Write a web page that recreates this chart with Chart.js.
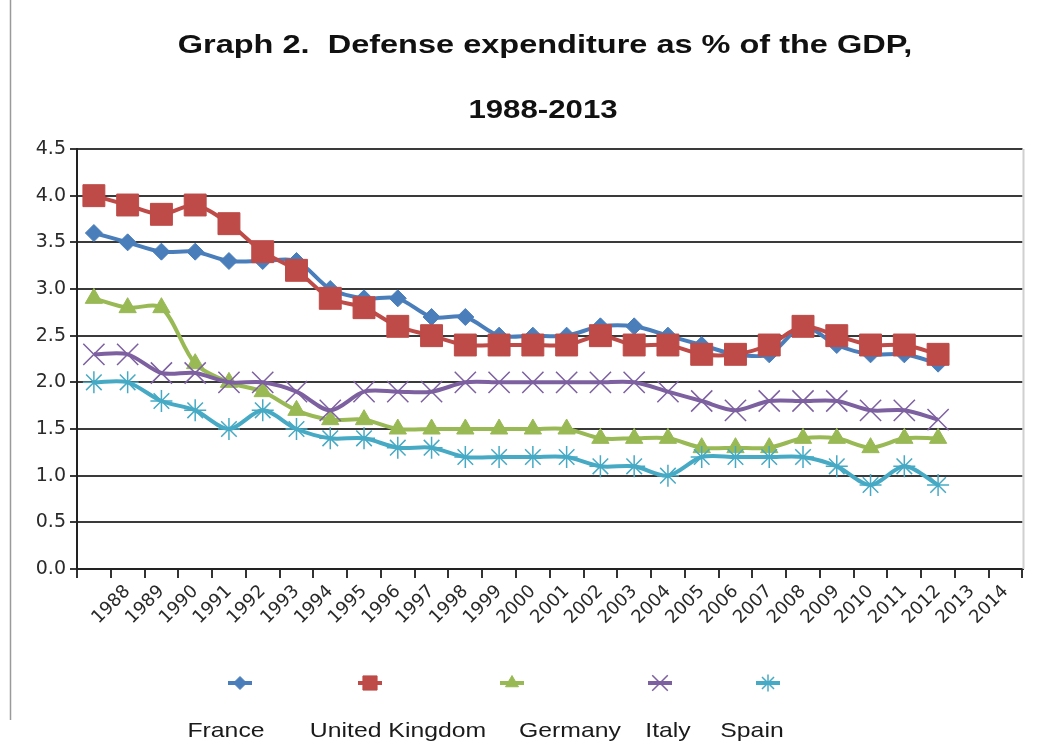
<!DOCTYPE html>
<html>
<head>
<meta charset="utf-8">
<script src="https://cdn.jsdelivr.net/npm/chart.js@4"></script>
<style>
html,body{margin:0;padding:0;background:#fff;}
#wrap{width:1039px;height:742px;position:relative;}
</style>
</head>
<body>
<div id="wrap"><canvas id="c" width="1039" height="742"></canvas></div>
<script>
const titleLines = ['Graph 2.  Defense expenditure as % of the GDP,', '1988-2013'];
const categories = ['', '1988', '1989', '1990', '1991', '1992', '1993', '1994', '1995', '1996', '1997', '1998', '1999', '2000', '2001', '2002', '2003', '2004', '2005', '2006', '2007', '2008', '2009', '2010', '2011', '2012', '2013', '2014'];
const seriesNames = ['France', 'United Kingdom', 'Germany', 'Italy', 'Spain'];
const france  = [3.6, 3.5, 3.4, 3.4, 3.3, 3.3, 3.3, 3.0, 2.9, 2.9, 2.7, 2.7, 2.5, 2.5, 2.5, 2.6, 2.6, 2.5, 2.4, 2.3, 2.3, 2.6, 2.4, 2.3, 2.3, 2.2];
const uk      = [4.0, 3.9, 3.8, 3.9, 3.7, 3.4, 3.2, 2.9, 2.8, 2.6, 2.5, 2.4, 2.4, 2.4, 2.4, 2.5, 2.4, 2.4, 2.3, 2.3, 2.4, 2.6, 2.5, 2.4, 2.4, 2.3];
const germany = [2.9, 2.8, 2.8, 2.2, 2.0, 1.9, 1.7, 1.6, 1.6, 1.5, 1.5, 1.5, 1.5, 1.5, 1.5, 1.4, 1.4, 1.4, 1.3, 1.3, 1.3, 1.4, 1.4, 1.3, 1.4, 1.4];
const italy   = [2.3, 2.3, 2.1, 2.1, 2.0, 2.0, 1.9, 1.7, 1.9, 1.9, 1.9, 2.0, 2.0, 2.0, 2.0, 2.0, 2.0, 1.9, 1.8, 1.7, 1.8, 1.8, 1.8, 1.7, 1.7, 1.6];
const spain   = [2.0, 2.0, 1.8, 1.7, 1.5, 1.7, 1.5, 1.4, 1.4, 1.3, 1.3, 1.2, 1.2, 1.2, 1.2, 1.1, 1.1, 1.0, 1.2, 1.2, 1.2, 1.2, 1.1, 0.9, 1.1, 0.9];
const yTickLabels = ['0.0', '0.5', '1.0', '1.5', '2.0', '2.5', '3.0', '3.5', '4.0', '4.5'];

const seriesValues = [france, uk, germany, italy, spain];
const colors = ['#4A7EBB', '#BE4B48', '#98B954', '#7D60A0', '#46AAC5'];
const styles = [
  {pointStyle: 'rectRot', radius: 8.5, bw: 1},
  {pointStyle: 'rect', radius: 15.5, bw: 1},
  {pointStyle: 'triangle', radius: 10, bw: 1},
  {pointStyle: 'crossRot', radius: 15, bw: 1.5},
  {pointStyle: 'star', radius: 11, bw: 1.5}
];
const legendStyles = [
  {pointStyle: 'rectRot', radius: 6.5, bw: 1},
  {pointStyle: 'rect', radius: 10, bw: 1},
  {pointStyle: 'triangle', radius: 7.5, bw: 1},
  {pointStyle: 'crossRot', radius: 11, bw: 1.5},
  {pointStyle: 'star', radius: 8.5, bw: 1.5}
];
const legendMarkerX = [240, 370, 512, 660, 768];
const legendLabelX = [226, 398, 570, 668, 752];

const datasets = seriesNames.map((name, i) => ({
  label: name,
  data: seriesValues[i],
  borderColor: colors[i],
  backgroundColor: colors[i],
  borderWidth: 4,
  tension: 0.3,
  pointStyle: styles[i].pointStyle,
  pointRadius: styles[i].radius,
  pointBorderWidth: styles[i].bw,
  pointBackgroundColor: colors[i],
  pointBorderColor: colors[i],
  order: seriesNames.length - i
}));

function stretchedText(ctx, text, cx, y, sx) {
  ctx.save();
  ctx.translate(cx, y);
  ctx.scale(sx, 1);
  ctx.fillText(text, 0, 0);
  ctx.restore();
}

const decor = {
  id: 'decor',
  afterDraw(chart) {
    const ctx = chart.ctx;
    const ca = chart.chartArea;
    ctx.save();
    ctx.strokeStyle = '#9a9a9a';
    ctx.lineWidth = 1.5;
    ctx.beginPath(); ctx.moveTo(10.5, 0); ctx.lineTo(10.5, 720); ctx.stroke();
    ctx.strokeStyle = '#d0d0d0';
    ctx.lineWidth = 2;
    ctx.beginPath(); ctx.moveTo(ca.right + 1, ca.top); ctx.lineTo(ca.right + 1, ca.bottom); ctx.stroke();
    ctx.fillStyle = '#111';
    ctx.font = 'bold 26px "Liberation Sans"';
    ctx.textAlign = 'center';
    ctx.textBaseline = 'alphabetic';
    stretchedText(ctx, titleLines[0], 545, 53, 1.25);
    stretchedText(ctx, titleLines[1], 543, 118, 1.2);
    for (let i = 0; i < seriesNames.length; i++) {
      const x = legendMarkerX[i], y = 683;
      ctx.strokeStyle = colors[i];
      ctx.fillStyle = colors[i];
      ctx.lineWidth = 4;
      ctx.beginPath(); ctx.moveTo(x - 12, y); ctx.lineTo(x + 12, y); ctx.stroke();
      ctx.lineWidth = legendStyles[i].bw;
      Chart.helpers.drawPoint(ctx, {pointStyle: legendStyles[i].pointStyle, radius: legendStyles[i].radius, rotation: 0, borderWidth: legendStyles[i].bw}, x, y);
      ctx.fillStyle = '#1a1a1a';
      ctx.font = '21px "Liberation Sans"';
      ctx.textAlign = 'center';
      stretchedText(ctx, seriesNames[i], legendLabelX[i], 737, 1.18);
    }
    ctx.restore();
  }
};

new Chart(document.getElementById('c'), {
  type: 'line',
  data: {labels: categories, datasets},
  options: {
    responsive: false,
    animation: false,
    devicePixelRatio: 1,
    layout: {padding: {top: 149, left: 20, right: 12, bottom: 0}},
    plugins: {legend: {display: false}, title: {display: false}, tooltip: {enabled: false}},
    scales: {
      x: {
        type: 'category',
        offset: true,
        grid: {offset: true, drawOnChartArea: false, drawTicks: true, tickLength: 9, color: '#333', lineWidth: 2},
        border: {display: true, color: '#222', width: 2},
        ticks: {autoSkip: false, maxRotation: 45, minRotation: 45, font: {family: 'DejaVu Sans', size: 18}, color: '#2a2a2a', padding: 3},
        afterFit: s => { s.height = 173; }
      },
      y: {
        min: 0, max: 4.5,
        ticks: {stepSize: 0.5, callback: (v, idx) => yTickLabels[idx], font: {family: 'DejaVu Sans', size: 19}, color: '#2a2a2a', padding: 4},
        grid: {color: '#3a3a3a', lineWidth: 2, tickLength: 7},
        border: {color: '#222', width: 2},
        afterFit: s => { s.width = 57; }
      }
    }
  },
  plugins: [decor]
});
</script>
</body>
</html>
